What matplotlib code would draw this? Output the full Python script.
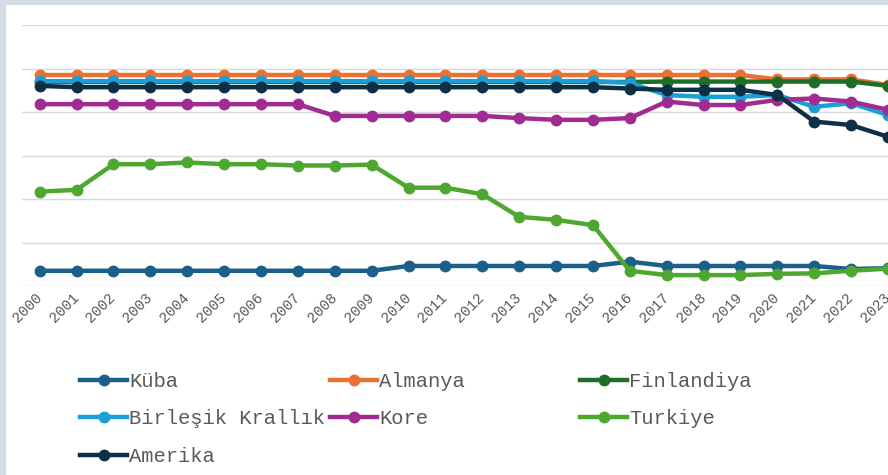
# Imports
import matplotlib
matplotlib.use("Agg")
from matplotlib import pyplot as plt
from matplotlib.patches import Rectangle
from matplotlib.transforms import ScaledTranslation

# Data (y axis labels are cropped, scale 0-60)
years = list(range(2000, 2024))

kuba = [3.5, 3.5, 3.5, 3.5, 3.5, 3.5, 3.5, 3.5, 3.5, 3.5,
        4.6, 4.6, 4.6, 4.6, 4.6, 4.6, 5.6, 4.6, 4.6, 4.6, 4.6, 4.6, 3.9, 4.1]
almanya = [48.5] * 20 + [47.5, 47.5, 47.5, 46.2]
finlandiya = [46.9] * 17 + [47.0, 47.0, 47.0, 47.0, 47.0, 47.0, 46.0]
birlesik = [47.1] * 16 + [46.7, 43.9, 43.5, 43.5, 43.9, 41.2, 42.0, 39.3]
kore = [41.8] * 8 + [39.1, 39.1, 39.1, 39.1, 39.1, 38.6, 38.2, 38.2,
                     38.6, 42.4, 41.6, 41.6, 42.8, 43.1, 42.4, 40.5]
turkiye = [21.7, 22.1, 28.0, 28.0, 28.4, 28.0, 28.0, 27.7, 27.7, 27.9,
           22.6, 22.6, 21.1, 15.9, 15.2, 14.0, 3.5, 2.5, 2.5, 2.5, 2.8, 2.9, 3.5, 4.0]
amerika = [46.0] + [45.7] * 15 + [45.4, 45.1, 45.1, 45.1, 43.9, 37.8, 37.0, 34.3]

series = [("Küba", kuba, "#1b6088"),
          ("Almanya", almanya, "#e97132"),
          ("Finlandiya", finlandiya, "#1d6e26"),
          ("Birleşik Krallık", birlesik, "#1a9fd6"),
          ("Kore", kore, "#a02b93"),
          ("Turkiye", turkiye, "#4ea72e"),
          ("Amerika", amerika, "#0e3047")]

W, H = 888, 475
fig = plt.figure(figsize=(W / 100, H / 100), dpi=100)
fig.patch.set_facecolor("#d5dce6")
fig.patches.append(Rectangle((6 / W, 0), 1, 1 - 5 / H, transform=fig.transFigure,
                             facecolor="white", edgecolor="none", zorder=-5))

ax = fig.add_axes([22 / W, (H - 286) / H, (W - 22) / W, (286 - 25) / H])
ax.set_zorder(2)
ax.patch.set_alpha(0)

handles = {}
for name, vals, col in series:
    line, = ax.plot(years, vals, color=col, lw=3.2, marker="o", ms=7.5,
                    label=name, solid_joinstyle="round")
    handles[name] = line

ax.set_xlim(2000 - 18 / 37.6, 2000 + (W - 40) / 37.6)
ax.set_ylim(0, 60)
ax.set_yticks(range(0, 61, 10))
ax.set_yticklabels([])
ax.grid(axis="y", color="#d9d9d9", lw=1)
ax.set_axisbelow(True)
for s in ax.spines.values():
    s.set_visible(False)
ax.tick_params(length=0)
ax.set_xticks(years)
ax.set_xticklabels([str(y) for y in years], rotation=45, ha="right", va="top",
                   rotation_mode="anchor", fontsize=10.5, color="#595959",
                   family="Liberation Mono")
ax.tick_params(axis="x", pad=4)
shift = ScaledTranslation(-0.05, 0.01, fig.dpi_scale_trans)
for lbl in ax.get_xticklabels():
    lbl.set_transform(lbl.get_transform() + shift)

# Legend in three equal-width columns like the spreadsheet one
cols = [(["Küba", "Birleşik Krallık", "Amerika"], 80),
        (["Almanya", "Kore"], 330),
        (["Finlandiya", "Turkiye"], 580)]
for names, xpx in cols:
    leg = fig.legend([handles[n] for n in names], names, loc="upper left",
                     bbox_to_anchor=(xpx / W, 1 - 372 / H), frameon=False,
                     borderpad=0, borderaxespad=0, handlelength=2.3,
                     handletextpad=0.1, labelspacing=0.9,
                     prop={"family": "Liberation Mono", "size": 14.8},
                     labelcolor="#595959")
    leg.set_zorder(3)

plt.savefig("out.png", dpi=100)
